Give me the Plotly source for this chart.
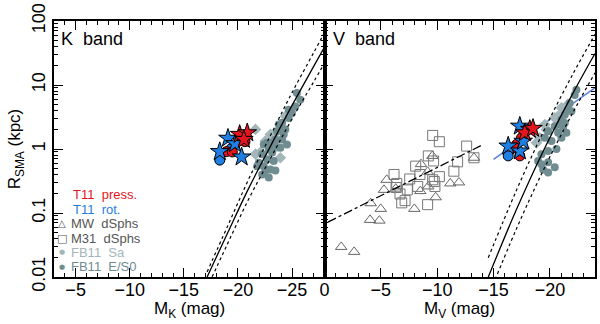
import plotly.graph_objects as go
from plotly.subplots import make_subplots

# ---- K band (left panel) ----
k_press_star_m = [-20.16, -20.86, -20.55]
k_press_star_r = [1.69, 1.79, 1.41]
k_press_circ_m = [-20.1, -20.65, -18.93, -19.48]
k_press_circ_r = [1.6, 1.3, 0.91, 0.90]
k_rot_star_m = [-19.08, -19.73, -18.32, -20.34]
k_rot_star_r = [1.47, 1.21, 0.91, 0.75]
k_rot_circ_m = [-19.33, -18.32]
k_rot_circ_r = [1.0, 0.67]

k_es0_m = [-25.45, -25.76, -25.30, -24.99, -24.69, -24.08, -23.92, -23.62, -24.23, -23.46,
           -23.16, -22.70, -22.39, -24.53, -23.92, -22.85, -23.16, -22.24, -22.70, -23.31,
           -21.93, -22.39, -23.00, -23.46, -22.24, -22.85, -23.77, -24.38, -24.08, -24.69,
           -23.46, -21.78, -22.54]
k_es0_r = [7.5, 5.9, 4.6, 3.7, 3.06, 2.56, 2.14, 1.90, 1.69, 1.41,
           1.25, 1.25, 1.18, 1.18, 1.05, 0.99, 0.88, 0.83, 0.69, 0.65,
           0.61, 0.54, 0.48, 0.46, 0.40, 0.36, 2.41, 2.02, 1.41, 4.1,
           1.10, 0.54, 0.46]
k_sa_m = [-21.62, -22.54, -23.31, -21.62, -23.92, -22.08, -24.38, -23.62, -23.00]
k_sa_r = [2.02, 1.33, 1.59, 0.83, 0.73, 0.89, 3.25, 1.10, 1.69]

k_fit_m = [-17.15, -19, -21, -23, -25, -27, -28]
k_fit_r = [0.01, 0.047, 0.245, 1.10, 4.8, 19.5, 39]
k_fit_hi_r = [0.012, 0.060, 0.34, 1.62, 7.6, 32, 66]
k_fit_lo_r = [0.0068, 0.032, 0.166, 0.71, 2.95, 11.2, 21.9]

# ---- V band (right panel) ----
v_press_star_m = [-18.22, -17.77, -18.5]
v_press_star_r = [2.02, 1.79, 2.1]
v_press_circ_m = [-17.48, -17.04, -16.89, -17.33]
v_press_circ_r = [1.50, 1.18, 1.05, 0.78]
v_rot_star_m = [-17.33, -16.3, -17.33, -17.63]
v_rot_star_r = [2.27, 1.11, 0.93, 1.32]
v_rot_circ_m = [-16.3]
v_rot_circ_r = [0.78]

v_es0_m = [-22.35, -22.20, -21.76, -21.61, -21.32, -21.02, -20.87, -21.17, -20.43, -21.46,
           -20.73, -19.84, -21.02, -20.14, -19.55, -20.58, -19.84, -19.25, -18.95, -19.84,
           -19.25, -20.43, -19.40, -19.84, -21.32, -21.91]
v_es0_r = [8.4, 7.0, 5.2, 4.1, 3.44, 2.88, 2.41, 2.14, 2.27, 1.79,
           1.79, 1.90, 1.50, 1.33, 1.50, 1.0, 0.93, 0.83, 0.65, 0.62,
           0.58, 0.52, 0.48, 0.43, 2.55, 3.9]
v_sa_m = [-21.02, -20.43, -19.55, -19.69, -19.1, -18.81, -20.73, -21.61]
v_sa_r = [4.4, 3.06, 2.41, 2.02, 1.50, 1.25, 3.25, 5.0]

m31_m = [-9.60, -10.19, -12.61, -9.21, -9.68, -11.81, -13.26, -8.09, -6.17, -8.47,
         -11.48, -10.19, -7.56, -9.60, -6.41, -7.35, -8.27, -9.80, -6.70, -7.15,
         -6.85, -9.15, -9.74, -6.35]
m31_r = [1.63, 1.30, 1.11, 0.78, 0.65, 0.63, 0.73, 0.54, 0.40, 0.40,
         0.45, 0.37, 0.34, 0.33, 0.29, 0.23, 0.26, 0.26, 0.198, 0.156,
         0.144, 0.135, 0.31, 0.25]
mw_m = [-9.57, -8.56, -9.15, -5.52, -5.28, -6.32, -9.21, -8.50, -11.16, -11.93,
        -13.26, -9.86, -4.10, -4.99, -7.97, -4.04, -4.87, -1.48, -2.63]
mw_r = [0.78, 0.58, 0.44, 0.33, 0.23, 0.24, 0.26, 0.22, 0.29, 0.30,
        0.73, 0.176, 0.142, 0.116, 0.116, 0.078, 0.076, 0.0295, 0.0247]

dsph_fit_m = [-0.3, -14.1]
dsph_fit_r = [0.072, 1.18]
t11_fit_m = [-15.0, -24.0]
t11_fit_r = [0.69, 9.0]

v_fit_m = [-14.53, -17, -19.5, -22, -24]
v_fit_r = [0.01, 0.11, 1.0, 7.2, 31]
v_fit_hi_r = [0.02, 0.22, 2.0, 14.4, 62]
v_fit_lo_r = [0.005, 0.055, 0.5, 3.6, 15.5]

RED = "#e3151e"
BLUE = "#1f7fe3"
ES0 = "#6f8c91"
SA = "#a3b6ba"
GREY = "#666666"
FONT = "Liberation Sans, Arial"

fig = make_subplots(rows=1, cols=2, shared_yaxes=True, horizontal_spacing=0)


def add_panel(col, es0_m, es0_r, sa_m, sa_r, fit_m, fit_r, hi_r, lo_r,
              ps_m, ps_r, pc_m, pc_r, rs_m, rs_r, rc_m, rc_r):
    fig.add_trace(go.Scatter(x=sa_m, y=sa_r, mode="markers",
                             marker=dict(symbol="diamond", size=9, color=SA)), row=1, col=col)
    fig.add_trace(go.Scatter(x=es0_m, y=es0_r, mode="markers",
                             marker=dict(symbol="circle", size=8, color=ES0)), row=1, col=col)
    fig.add_trace(go.Scatter(x=fit_m, y=fit_r, mode="lines", line_shape="spline",
                             line=dict(color="black", width=1.3)), row=1, col=col)
    for r in (hi_r, lo_r):
        fig.add_trace(go.Scatter(x=fit_m, y=r, mode="lines", line_shape="spline",
                                 line=dict(color="black", width=1.2, dash="dot")), row=1, col=col)
    edge = dict(color="black", width=1)
    fig.add_trace(go.Scatter(x=rc_m, y=rc_r, mode="markers",
                             marker=dict(symbol="circle", size=10, color=BLUE, line=edge)), row=1, col=col)
    fig.add_trace(go.Scatter(x=pc_m, y=pc_r, mode="markers",
                             marker=dict(symbol="circle", size=10, color=RED, line=edge)), row=1, col=col)
    fig.add_trace(go.Scatter(x=rs_m, y=rs_r, mode="markers",
                             marker=dict(symbol="star", size=14, color=BLUE, line=edge)), row=1, col=col)
    fig.add_trace(go.Scatter(x=ps_m, y=ps_r, mode="markers",
                             marker=dict(symbol="star", size=14, color=RED, line=edge)), row=1, col=col)


# dSph points and fits in V band go under the galaxy points
fig.add_trace(go.Scatter(x=mw_m, y=mw_r, mode="markers",
                         marker=dict(symbol="triangle-up-open", size=10, color=GREY,
                                     line=dict(width=1))), row=1, col=2)
fig.add_trace(go.Scatter(x=m31_m, y=m31_r, mode="markers",
                         marker=dict(symbol="square-open", size=10, color="#777777",
                                     line=dict(width=1))), row=1, col=2)
fig.add_trace(go.Scatter(x=dsph_fit_m, y=dsph_fit_r, mode="lines",
                         line=dict(color="black", width=1.3, dash="dashdot")), row=1, col=2)
fig.add_trace(go.Scatter(x=t11_fit_m, y=t11_fit_r, mode="lines",
                         line=dict(color="#5b7fd6", width=1.5)), row=1, col=2)

add_panel(1, k_es0_m, k_es0_r, k_sa_m, k_sa_r, k_fit_m, k_fit_r, k_fit_hi_r, k_fit_lo_r,
          k_press_star_m, k_press_star_r, k_press_circ_m, k_press_circ_r,
          k_rot_star_m, k_rot_star_r, k_rot_circ_m, k_rot_circ_r)
add_panel(2, v_es0_m, v_es0_r, v_sa_m, v_sa_r, v_fit_m, v_fit_r, v_fit_hi_r, v_fit_lo_r,
          v_press_star_m, v_press_star_r, v_press_circ_m, v_press_circ_r,
          v_rot_star_m, v_rot_star_r, v_rot_circ_m, v_rot_circ_r)

font = dict(family=FONT, size=17, color="black")
big = dict(family=FONT, size=18, color="black")
axis_common = dict(showline=True, linecolor="black", linewidth=1.5, mirror="ticks",
                   ticks="inside", ticklen=9, tickwidth=1, tickcolor="black",
                   showgrid=False, zeroline=False, tickfont=big)

fig.update_xaxes(**axis_common, dtick=5, tick0=0, ticklabelstandoff=-4,
                 minor=dict(ticks="inside", ticklen=4, dtick=1, tickcolor="black", showgrid=False))
fig.update_xaxes(range=[-3, -28], row=1, col=1)
fig.update_xaxes(range=[0, -24], row=1, col=2)
fig.update_yaxes(**axis_common, type="log", range=[-2, 2], dtick=1, tickangle=-90,
                 minor=dict(ticks="inside", ticklen=4, tickcolor="black", showgrid=False))
fig.update_yaxes(title=dict(text="R<sub>SMA</sub> (kpc)", font=font, standoff=4), row=1, col=1)

fig.update_layout(xaxis=dict(domain=[0, 0.5]), xaxis2=dict(domain=[0.5, 1]))

# axis titles below the tick labels
fig.add_annotation(text="M<sub>K</sub>\u00a0(mag)", xref="x domain", yref="paper", x=0.5, y=-0.13,
                   xanchor="center", yanchor="middle", showarrow=False, font=font)
fig.add_annotation(text="M<sub>V</sub>\u00a0(mag)", xref="x2 domain", yref="paper", x=0.5, y=-0.13,
                   xanchor="center", yanchor="middle", showarrow=False, font=font)

fig.add_annotation(text="K\u00a0\u00a0band", xref="x domain", yref="y domain", x=0.02, y=0.93,
                   xanchor="left", yanchor="middle", showarrow=False, font=big)
fig.add_annotation(text="V\u00a0\u00a0band", xref="x2 domain", yref="y domain", x=0.025, y=0.93,
                   xanchor="left", yanchor="middle", showarrow=False, font=big)

legend_items = [
    ("T11\u00a0\u00a0press.", RED, 0.322),
    ("T11\u00a0\u00a0rot.", BLUE, 0.264),
    ("MW\u00a0\u00a0dSphs", "#555555", 0.208),
    ("M31\u00a0\u00a0dSphs", "#555555", 0.152),
    ("FB11\u00a0\u00a0Sa", SA, 0.096),
    ("FB11\u00a0\u00a0E/S0", ES0, 0.040),
]
for text, color, y in legend_items:
    x = 0.066 if text.startswith("T11") else 0.06
    fig.add_annotation(text=text, xref="x domain", yref="y domain", x=x, y=y,
                       xanchor="left", yanchor="middle", showarrow=False, borderpad=0,
                       font=dict(family=FONT, size=13, color=color))

legend_symbols = [
    ("\u25b3", "#555555", 0.208, 10),
    ("\u25a1", "#555555", 0.152, 11),
    ("\u25cf", SA, 0.096, 7),
    ("\u25cf", ES0, 0.040, 7),
]
for sym, color, y, size in legend_symbols:
    fig.add_annotation(text=sym, xref="x domain", yref="y domain", x=0.03, y=y,
                       xanchor="center", yanchor="middle", showarrow=False, borderpad=0,
                       font=dict(family="DejaVu Sans", size=size, color=color))

fig.update_layout(width=600, height=324, showlegend=False,
                  margin=dict(l=54, r=3, t=19, b=47),
                  paper_bgcolor="white", plot_bgcolor="white")

# the browser's default body margin would push the figure off the 600x324 window
fig.write_html("out.html", config={"displayModeBar": False},
               post_script="document.body.style.margin='0';")
